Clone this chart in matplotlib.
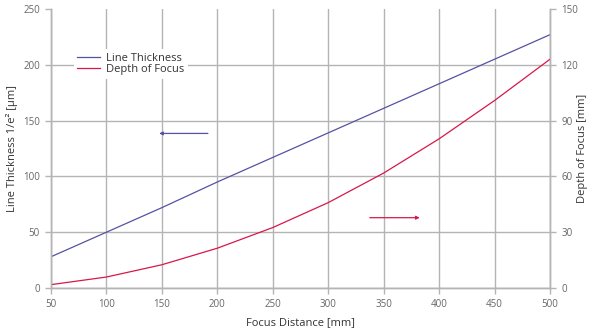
import matplotlib
matplotlib.use("Agg")
import matplotlib.pyplot as plt

distance = [50, 100, 150, 200, 250, 300, 350, 400, 450, 500]
line_thickness = [28, 50, 72, 95, 117, 139, 161, 183, 205, 227]
depth_of_focus = [1.8, 5.9, 12.5, 21.4, 32.5, 45.9, 61.8, 80.2, 100.8, 123]

x_ticks = [50, 100, 150, 200, 250, 300, 350, 400, 450, 500]
left_ticks = [0, 50, 100, 150, 200, 250]
right_ticks = [0, 30, 60, 90, 120, 150]

plt.rcParams['font.family'] = ['Open Sans', 'DejaVu Sans']

blue = '#5552a3'
red = '#d8174a'
grid_c = '#b4b4b4'
tick_c = '#666666'

fig = plt.figure(figsize=(5.9, 3.31), dpi=100)
ax = fig.add_axes([51/590, 1 - 288/331, (550-51)/590, (288-9)/331])
ax2 = ax.twinx()

l1, = ax.plot(distance, line_thickness, color=blue, lw=0.9, label='Line Thickness')
l2, = ax2.plot(distance, depth_of_focus, color=red, lw=0.9, label='Depth of Focus')

ax.set_xlim(50, 500)
ax.set_ylim(0, 250)
ax2.set_ylim(0, 150)
ax.set_xticks(x_ticks)
ax.set_yticks(left_ticks)
ax2.set_yticks(right_ticks)

for a in (ax, ax2):
    a.spines['top'].set_visible(False)
    for s in ('left', 'right', 'bottom'):
        a.spines[s].set_color(grid_c)
        a.spines[s].set_linewidth(1.0)
    a.tick_params(colors=grid_c, labelcolor=tick_c, labelsize=7, length=4, width=1, pad=4)

ax.grid(True, color=grid_c, lw=1.0)
ax.set_axisbelow(True)
ax.yaxis.get_gridlines()[-1].set_visible(False)

ax.set_xlabel('Focus Distance [mm]', fontsize=8, color='#333333', labelpad=5)
ax.set_ylabel('Line Thickness 1/e² [μm]', fontsize=8, color='#333333', va='center')
ax.yaxis.set_label_coords((12 - 51) / 499, 0.5)
ax2.set_ylabel('Depth of Focus [mm]', fontsize=8, color='#333333', va='center', rotation=90)
ax2.yaxis.set_label_coords((582 - 51) / 499, 0.5)

ax.annotate('', xy=(145, 138.5), xytext=(194, 138.5),
            arrowprops=dict(arrowstyle='-|>', color=blue, lw=0.9, mutation_scale=5))
ax.annotate('', xy=(385, 63), xytext=(335, 63),
            arrowprops=dict(arrowstyle='-|>', color=red, lw=0.9, mutation_scale=5))

leg = ax2.legend(handles=[l1, l2], loc='upper left', bbox_to_anchor=(0.035, 0.875),
                 frameon=True, fontsize=8, handlelength=2.0, handletextpad=0.6,
                 labelspacing=0.05, borderpad=0.3, labelcolor='#333333')
leg.get_frame().set_facecolor('white')
leg.get_frame().set_edgecolor('none')
leg.get_frame().set_alpha(1)

fig.savefig('out.png', dpi=100)
